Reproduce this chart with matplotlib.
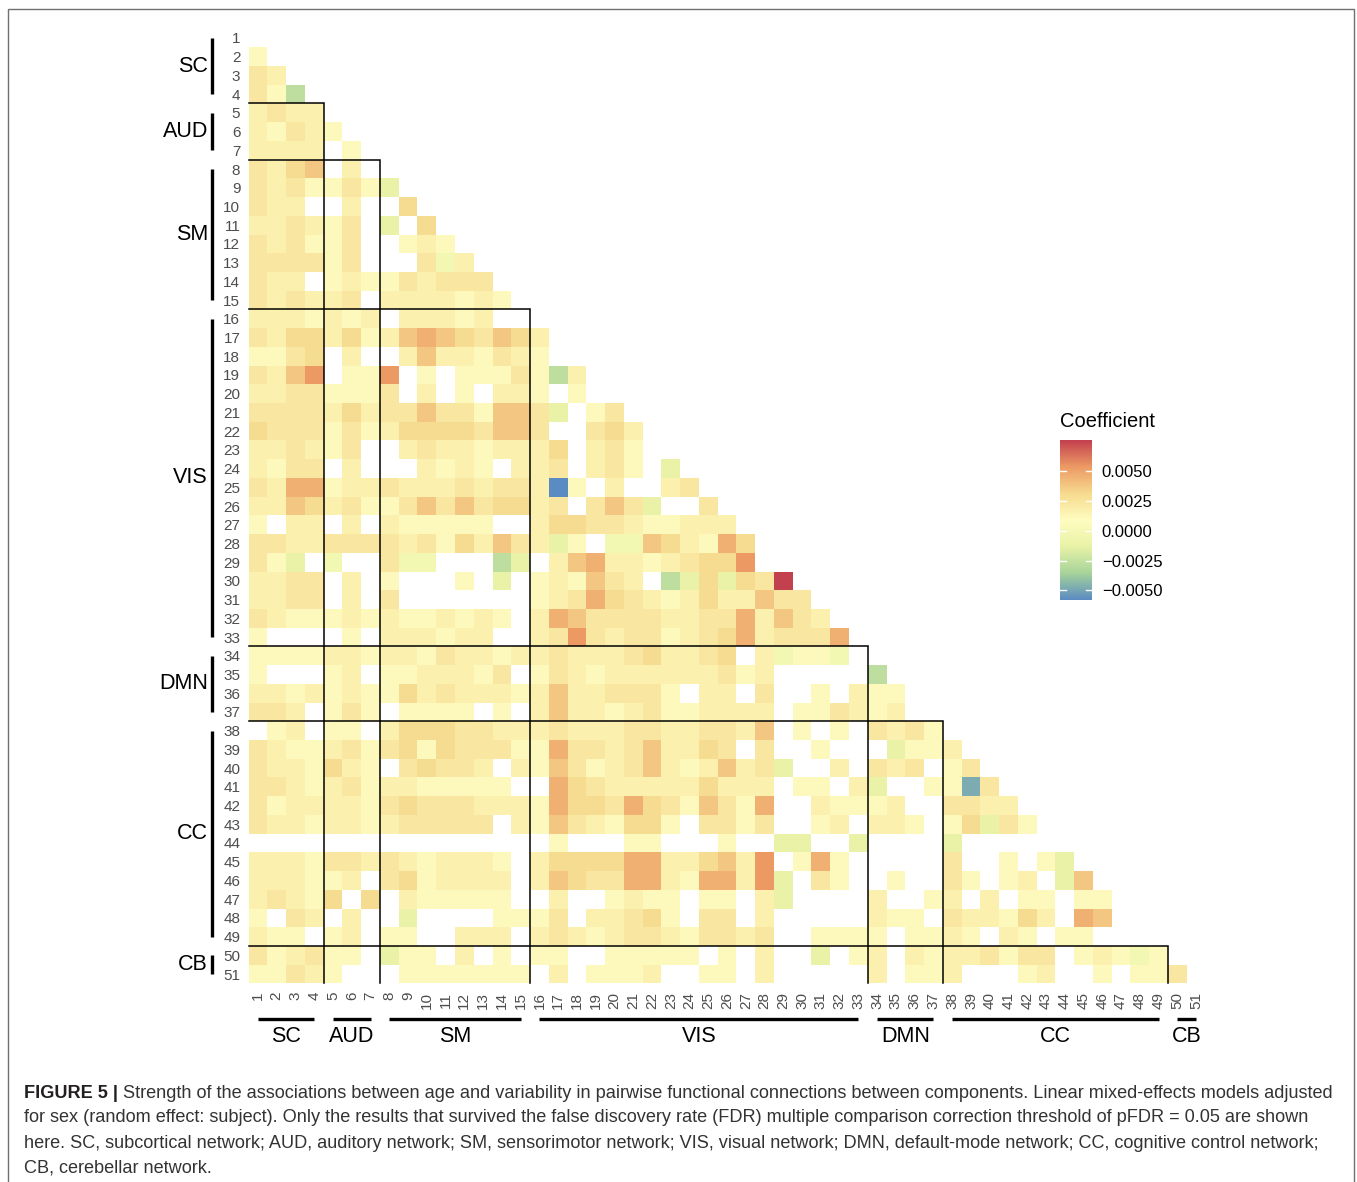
import numpy as np
import matplotlib.pyplot as plt
from matplotlib.colors import LinearSegmentedColormap
from matplotlib.patches import Rectangle

plt.rcParams['font.family'] = ['Liberation Sans', 'DejaVu Sans']

# colour levels ('.' = not significant after FDR)
level_values = {
    '1': 0.0011, '2': 0.0017, '3': 0.0023, '4': 0.0030, '5': 0.0038,
    '6': 0.0046, '7': 0.0054, '9': 0.0076,
    'u': -0.0003, 'v': -0.0012, 'w': -0.0028, 'x': -0.0048, 'z': -0.0058,
}

# lower triangle, row i holds components 1..i-1
rows = [
    '',
    '1',
    '32',
    '31w',
    '2322',
    '21321',
    '2222.1',
    '3245.2.',
    '3231131v',
    '322..2..4',
    '223213.v.4',
    '323113..121',
    '333313...3u2',
    '322.121132333',
    '323223.2222121',
    '2221212.22212..',
    '3244241256543542',
    '1134.2..25221321.',
    '3257.117.1.11131w2',
    '22331113.2.1.221.1.',
    '3333242335331553' + 'v.13',
    '4333131244443553' + '..342',
    '223213..23221222' + '4.231.',
    '2133.2...2121.22' + '3.231.v',
    '3266122322232332' + 'z1.2..23',
    '2254231135353442' + '3.353v..3',
    '1.22.2.211111..2' + '4433211222',
    '3322333323142532' + 'v1.uu542164',
    '31v.u..3uu...wv.' + '25622123447.',
    '2233.2.1...1.v.1' + '21532.wv4v439',
    '2233.2.3.......1' + '23643212422533',
    '32111212112121.2' + '653333223362532',
    '1....1.222122..2' + '3732331234623336',
    '1111221221322122' + '3222342234.2u11u.',
    '1...12.1122213.1' + '321222222312' + '.....' + 'w',
    '2212121142322212' + '5223331.22.3..1.2' + '11',
    '332.131.1111.1.2' + '522123112222.1132' + '12.',
    '.12.11.244433222' + '322233223325.1.1.' + '3231',
    '3211231341433311' + '6332352243.3..1..' + '.v112',
    '3221421.34332.21' + '531235212523v..2.' + '323.13',
    '33212312211111..' + '643222224222.11.2' + 'v..11x3',
    '3122221343332221' + '644364315316..211' + '12..3322',
    '3221221233333.21' + '5321441.3313..12.' + '221.14v31',
    '................' + '1...11...1..vv..v' + '....v.....',
    '22213323212221.2' + '444466224527.161.' + '....3..1.1v',
    '222112.3412222.2' + '543366216627v.31.' + '.1..31.12.v5',
    '23214.4.211111..' + '2..1211.11.2v....' + '2..12.2.11.11',
    '1.32.2..v....111' + '3.22341.33.2.....' + '211.322142.65.',
    '211.12.11..222.2' + '321233213323..111' + '1.1121.21.11..',
    '312311.v11.2.1.1' + '1..11111.1.2..v.1' + '2.21223133.121u1',
    '11321...1111111.' + '2.1112..11.2.....' + '2.112...12..1.113',
]

networks = ['SC', 'AUD', 'SM', 'VIS', 'DMN', 'CC', 'CB']
network_sizes = [4, 3, 8, 18, 4, 12, 2]

cbar_ticks = [-0.005, -0.0025, 0.0, 0.0025, 0.005]
cbar_labels = ['\u22120.0050', '\u22120.0025', '0.0000', '0.0025', '0.0050']
vmin, vmax = -0.0058, 0.0076

caption_bold = 'FIGURE 5 | '
caption_lines = [
    'Strength of the associations between age and variability in pairwise functional connections between components. Linear mixed-effects models adjusted',
    'for sex (random effect: subject). Only the results that survived the false discovery rate (FDR) multiple comparison correction threshold of pFDR = 0.05 are shown',
    'here. SC, subcortical network; AUD, auditory network; SM, sensorimotor network; VIS, visual network; DMN, default-mode network; CC, cognitive control network;',
    'CB, cerebellar network.',
]

n = len(rows)
mat = np.full((n, n), np.nan)
for i, row in enumerate(rows):
    for j, ch in enumerate(row):
        if ch != '.':
            mat[i, j] = level_values[ch]

# Spectral-like ramp as it looks in the printed figure, low = blue
cmap = LinearSegmentedColormap.from_list(
    'spec', ['#5A8BC3', '#A6D39A', '#E8F2A6', '#FEFCC0', '#F6DA8E', '#EC9A64', '#C3404F'])

W, H = 1357, 1182
fig = plt.figure(figsize=(W / 100, H / 100), dpi=100)

# pixel helpers
gx0, gy0, gx1, gy1 = 248.6, 28.6, 1205.5, 983.4
cell = (gx1 - gx0) / n


def dx(px):
    return 0.5 + (px - gx0) / cell


def dy(py):
    return 0.5 + (py - gy0) / cell


ax = fig.add_axes([gx0 / W, 1 - gy1 / H, (gx1 - gx0) / W, (gy1 - gy0) / H])
edges = np.arange(0.5, n + 1)
mesh = ax.pcolormesh(edges, edges, np.ma.masked_invalid(mat), cmap=cmap,
                     vmin=vmin, vmax=vmax)
ax.set_xlim(0.5, n + 0.5)
ax.set_ylim(n + 0.5, 0.5)
ax.set_xticks(range(1, n + 1))
ax.set_xticklabels([str(k) for k in range(1, n + 1)], rotation=90,
                   va='top', ha='center')
ax.set_yticks(range(1, n + 1))
ax.set_yticklabels([str(k) for k in range(1, n + 1)])
ax.tick_params(length=0, labelsize=11, labelcolor='#4D4D4D')
ax.tick_params(axis='x', pad=6)
ax.tick_params(axis='y', pad=6)
for s in ax.spines.values():
    s.set_visible(False)

# network boxes
ends = np.cumsum(network_sizes)
starts = ends - np.array(network_sizes) + 1
for b in ends[:-1]:
    ax.plot([0.5, b + 0.5, b + 0.5], [b + 0.5, b + 0.5, n + 0.5],
            color='black', lw=1.1, clip_on=False, solid_joinstyle='miter')

# network brackets on the left and bottom
for name, s, e in zip(networks, starts, ends):
    ax.plot([dx(212), dx(212)], [s, e], color='black', lw=2.4,
            clip_on=False, solid_capstyle='butt')
    ax.text(dx(208), (s + e) / 2, name, ha='right', va='center',
            fontsize=15.5, clip_on=False)
    ax.plot([s, e], [dy(1021), dy(1021)], color='black', lw=2.4,
            clip_on=False, solid_capstyle='butt')
    ax.text((s + e) / 2, dy(1039), name, ha='center', va='center',
            fontsize=15.5, clip_on=False)

# colour bar
cax = fig.add_axes([1060 / W, 1 - 600 / H, 32 / W, 160 / H])
cb = fig.colorbar(mesh, cax=cax)
cb.outline.set_visible(False)
cb.set_ticks(cbar_ticks)
cb.set_ticklabels(cbar_labels)
cax.tick_params(length=0, pad=7, labelsize=12)
for t in cbar_ticks:
    cax.axhline(t, 0, 0.2, color='white', lw=1)
    cax.axhline(t, 0.8, 1, color='white', lw=1)
fig.text(1060 / W, 1 - 421 / H, 'Coefficient', fontsize=14.5, va='center')

# frame
fig.add_artist(Rectangle((8 / W, 1 - 1195 / H), (1354 - 8) / W, (1195 - 9) / H,
                         transform=fig.transFigure, fill=False,
                         ec='#707070', lw=1))

# caption
renderer = fig.canvas.get_renderer()
cap_size = 13.05
line_y = [1093, 1118, 1143, 1168]
tb = fig.text(24 / W, 1 - line_y[0] / H, caption_bold, fontsize=cap_size,
              fontweight='bold', va='center', color='#231F20')
bw = tb.get_window_extent(renderer).width
for k, (txt, yy) in enumerate(zip(caption_lines, line_y)):
    x0 = 24 + (bw if k == 0 else 0)
    fig.text(x0 / W, 1 - yy / H, txt, fontsize=cap_size, va='center',
             color='#333333')

fig.savefig('out.png', dpi=100)
